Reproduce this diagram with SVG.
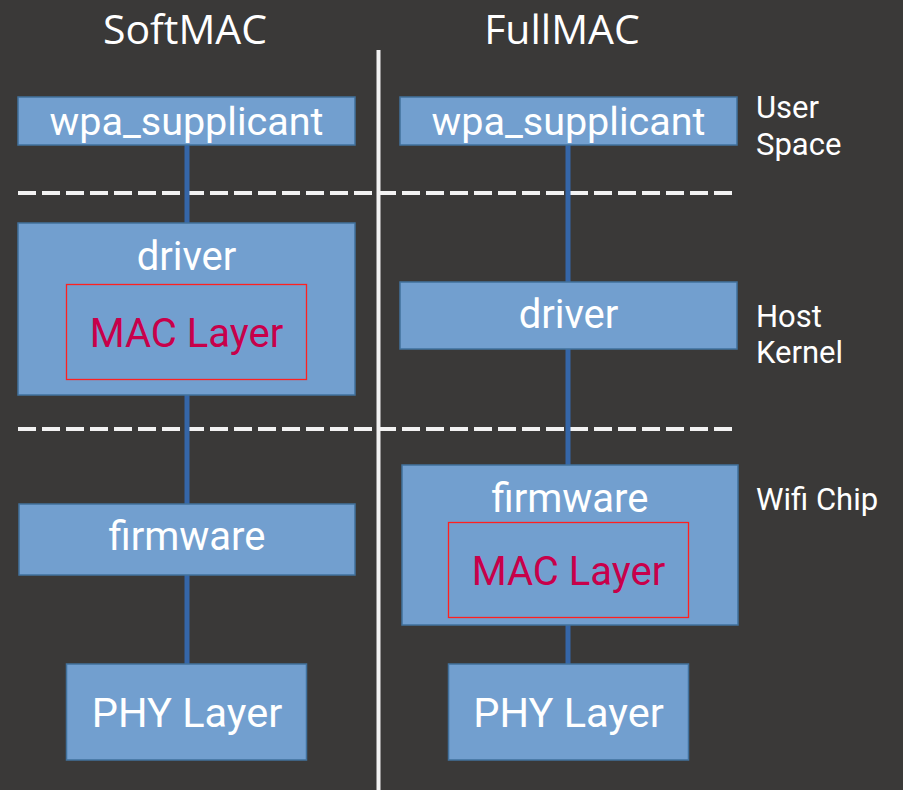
<svg xmlns="http://www.w3.org/2000/svg" width="903" height="790" viewBox="0 0 903 790">
<style>
.box{fill:#729fcf;stroke:#41719c;stroke-width:1.5}
.mac{fill:none;stroke:#ff2020;stroke-width:1.3}
.t{font-family:Roboto,"Liberation Sans",Arial,sans-serif;fill:#ffffff;text-anchor:middle}
.m{font-family:Roboto,"Liberation Sans",Arial,sans-serif;fill:#c8004a;text-anchor:middle;font-size:40px}
.lbl{font-family:Roboto,"Liberation Sans",Arial,sans-serif;fill:#ffffff;font-size:31px}
.title{font-family:"Open Sans","Noto Sans",sans-serif;fill:#ffffff;text-anchor:middle;font-size:41px}
.conn{stroke:#3566a8;stroke-width:5}
.dash{stroke:#f2f2f2;stroke-width:4;stroke-dasharray:18 6}
</style>
<rect x="0" y="0" width="903" height="790" fill="#3a3938"/>
<g id="titles">
<text class="title" x="185" y="44">SoftMAC</text>
<text class="title" x="562" y="44">FullMAC</text>
</g>
<g id="separators">
<line x1="378.5" y1="50" x2="378.5" y2="790" stroke="#f2f2f2" stroke-width="4"/>
<line class="dash" x1="18" y1="193" x2="733" y2="193"/>
<line class="dash" x1="18" y1="429" x2="733" y2="429"/>
</g>
<g id="connectors">
<line class="conn" x1="187" y1="145" x2="187" y2="664"/>
<line class="conn" x1="568" y1="145" x2="568" y2="664"/>
</g>
<g id="soft-wpa">
<rect class="box" x="18" y="97" width="337" height="48"/>
<text class="t" x="186.5" y="135" font-size="38" textLength="274" lengthAdjust="spacingAndGlyphs">wpa_supplicant</text>
</g>
<g id="soft-driver">
<rect class="box" x="18" y="223" width="337" height="172"/>
<text class="t" x="186.5" y="270" font-size="40">driver</text>
<rect class="mac" x="66.5" y="284.5" width="240" height="95"/>
<text class="m" x="186.5" y="347">MAC Layer</text>
</g>
<g id="soft-firmware">
<rect class="box" x="19" y="504" width="336" height="71"/>
<text class="t" x="187" y="550" font-size="40">firmware</text>
</g>
<g id="soft-phy">
<rect class="box" x="66.5" y="664" width="240" height="96"/>
<text class="t" x="187" y="727" font-size="41.5">PHY Layer</text>
</g>
<g id="full-wpa">
<rect class="box" x="400" y="97" width="337" height="48"/>
<text class="t" x="568.5" y="135" font-size="38" textLength="274" lengthAdjust="spacingAndGlyphs">wpa_supplicant</text>
</g>
<g id="full-driver">
<rect class="box" x="400" y="282" width="337" height="67"/>
<text class="t" x="568.5" y="328" font-size="40">driver</text>
</g>
<g id="full-firmware">
<rect class="box" x="402" y="465" width="336" height="160"/>
<text class="t" x="570" y="512" font-size="40">firmware</text>
<rect class="mac" x="448.5" y="522.5" width="240" height="95"/>
<text class="m" x="568.5" y="585">MAC Layer</text>
</g>
<g id="full-phy">
<rect class="box" x="448.5" y="664" width="240" height="96"/>
<text class="t" x="568.5" y="727" font-size="41.5">PHY Layer</text>
</g>
<g id="labels">
<text class="lbl" x="756" y="118">User</text>
<text class="lbl" x="756" y="155">Space</text>
<text class="lbl" x="756" y="327">Host</text>
<text class="lbl" x="756" y="363">Kernel</text>
<text class="lbl" x="756" y="510">Wifi Chip</text>
</g>
</svg>
